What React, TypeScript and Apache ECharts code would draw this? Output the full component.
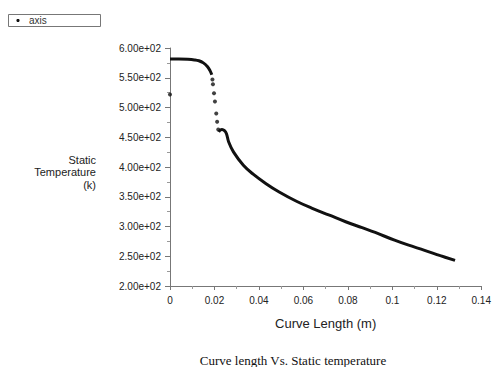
import React, { useEffect, useRef } from "react";
import * as echarts from "echarts";

// Flat plateau (dense points merge into a line)
const plateauX = [0, 0.004, 0.008, 0.011, 0.013, 0.015, 0.0168, 0.0180, 0.0188];
const plateauY = [581.5, 581.5, 581, 580, 578.5, 575, 569, 562, 555];

// Sparse drop points
const dropX = [0, 0.0191, 0.0193, 0.0198, 0.0202, 0.0208, 0.0212, 0.0217];
const dropY = [522, 547, 539, 524, 510, 490, 476, 463];

// Tail (dense points merge into a line)
const tailX = [0.0219, 0.0226, 0.0234, 0.0245, 0.0254, 0.0264, 0.0286, 0.033, 0.0374, 0.0432, 0.0491, 0.0571, 0.0637, 0.0717, 0.079, 0.0864, 0.0923, 0.101, 0.107, 0.1145, 0.1216, 0.1282];
const tailY = [459, 462, 463, 461, 456, 442, 425, 403, 388, 372, 358, 342, 331, 319, 308, 298, 290, 277, 269, 260, 251, 243];

const xTicks = [0, 0.02, 0.04, 0.06, 0.08, 0.1, 0.12, 0.14];
const yTicks = [200, 250, 300, 350, 400, 450, 500, 550, 600];

const seriesName = "axis";
const xName = "Curve Length (m)";
const yNameLines = ["Static", "Temperature", "(k)"];
const title = "Curve length Vs. Static temperature";

const zip = (xs: number[], ys: number[]) => xs.map((x, i) => [x, ys[i]]);

export default function App() {
  const ref = useRef<HTMLDivElement>(null);
  useEffect(() => {
    if (!ref.current) return;
    const chart = echarts.init(ref.current, undefined, { renderer: "svg" });
    const font = "Liberation Sans, Arial, sans-serif";
    chart.setOption({
      animation: false,
      backgroundColor: "#fff",
      grid: { left: 170, right: 5, top: 48, bottom: 81, containLabel: false },
      xAxis: {
        type: "value",
        min: xTicks[0],
        max: xTicks[xTicks.length - 1],
        interval: 0.02,
        axisLine: { show: true, onZero: false, lineStyle: { color: "#777", width: 1 } },
        axisTick: { show: true, length: 4, lineStyle: { color: "#777" } },
        minorTick: { show: true, splitNumber: 2, length: 3, lineStyle: { color: "#999" } },
        splitLine: { show: false },
        axisLabel: { color: "#222", fontSize: 10, fontFamily: font, margin: 9, showMaxLabel: true },
        name: xName,
        nameLocation: "middle",
        nameGap: 31,
        nameTextStyle: { color: "#222", fontSize: 13, fontFamily: font },
      },
      yAxis: {
        type: "value",
        min: yTicks[0],
        max: yTicks[yTicks.length - 1],
        interval: 50,
        axisLine: { show: true, onZero: false, lineStyle: { color: "#777", width: 1 } },
        axisTick: { show: true, length: 5, lineStyle: { color: "#777" } },
        minorTick: { show: true, splitNumber: 2, length: 3, lineStyle: { color: "#999" } },
        splitLine: { show: false },
        axisLabel: {
          color: "#222",
          fontSize: 10,
          fontFamily: font,
          margin: 9,
          formatter: (v: number) => v.toExponential(2).replace(/e\+(\d)$/, "e+0$1"),
        },
      },
      graphic: [
        { type: "rect", shape: { x: 8.5, y: 14.5, width: 92, height: 12 }, style: { fill: "#fff", stroke: "#777", lineWidth: 1 } },
        { type: "circle", shape: { cx: 18, cy: 20.5, r: 1.6 }, style: { fill: "#111" } },
        { type: "text", x: 29, y: 20.5, style: { text: seriesName, fontSize: 10, fontFamily: font, fill: "#333", verticalAlign: "middle" } },
        { type: "text", x: 96, y: 172, style: { text: yNameLines.join("\n"), fontSize: 11, lineHeight: 12.5, fontFamily: font, fill: "#222", align: "right", verticalAlign: "middle" } },
        { type: "text", x: 293, y: 360, style: { text: title, fontSize: 13, fontFamily: "Liberation Serif, Times New Roman, serif", fill: "#111", align: "center", verticalAlign: "middle" } },
      ],
      series: [
        {
          name: seriesName,
          type: "line",
          data: zip(plateauX, plateauY),
          smooth: 0.4,
          showSymbol: false,
          lineStyle: { color: "#111", width: 3 },
        },
        {
          name: seriesName,
          type: "scatter",
          data: zip(dropX, dropY),
          symbol: "circle",
          symbolSize: 4,
          itemStyle: { color: "#111" },
        },
        {
          name: seriesName,
          type: "line",
          data: zip(tailX, tailY),
          smooth: 0.4,
          showSymbol: false,
          lineStyle: { color: "#111", width: 3 },
        },
      ],
    });
    return () => chart.dispose();
  }, []);
  return <div ref={ref} style={{ width: 494, height: 367, position: "absolute", left: 0, top: 0 }} />;
}
